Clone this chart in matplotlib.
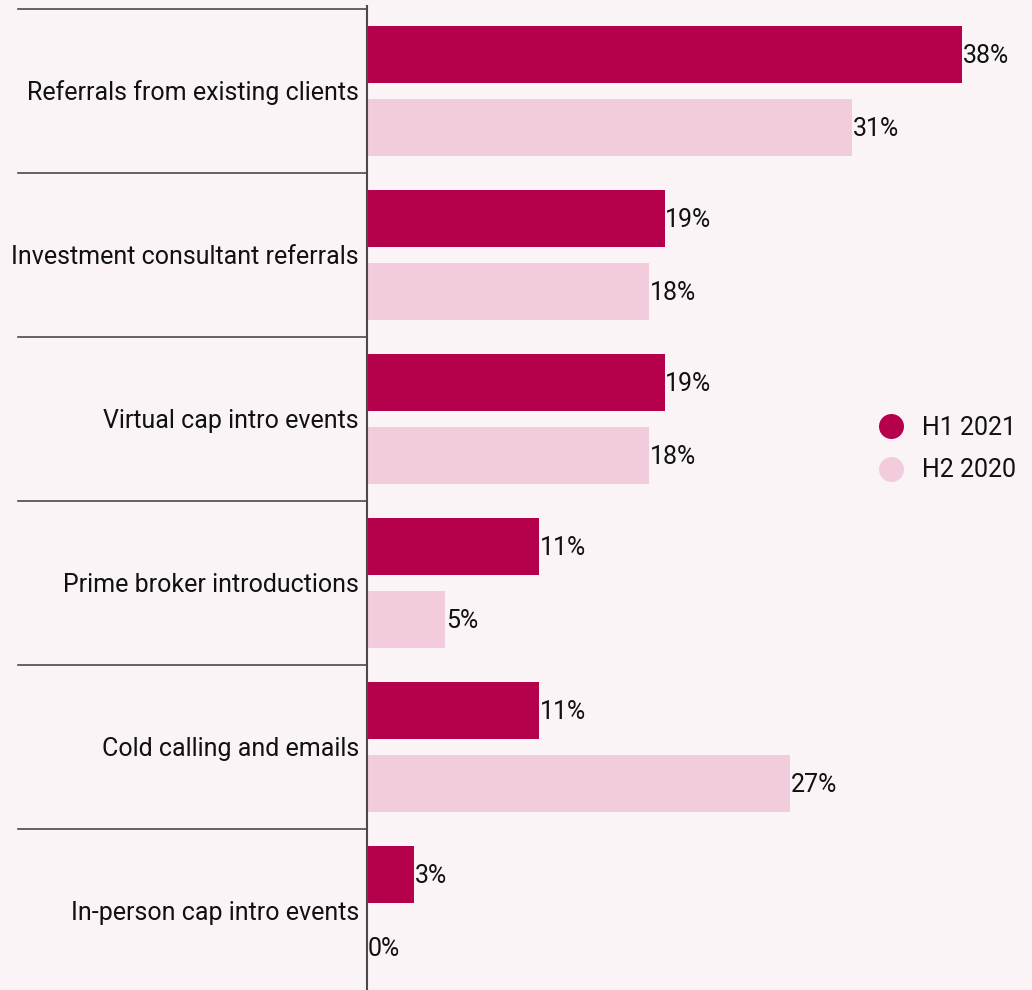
import numpy as np
import matplotlib.pyplot as plt
from matplotlib.lines import Line2D

# ─── Data ───
categories = [
    "Referrals from existing clients",
    "Investment consultant referrals",
    "Virtual cap intro events",
    "Prime broker introductions",
    "Cold calling and emails",
    "In-person cap intro events",
]
h1_2021 = [38, 19, 19, 11, 11, 3]
h2_2020 = [31, 18, 18, 5, 27, 0]
series_names = ["H1 2021", "H2 2020"]

# ─── Palette ───
DARK = "#B5004B"
LIGHT = "#F2CCDC"
BG = "#FAF4F6"
INK = "#111111"
RULE = "#4A4A4A"

plt.rcParams['font.family'] = ['Roboto', 'DejaVu Sans']
FS = 18

W, H = 1032, 990
fig = plt.figure(figsize=(W / 100, H / 100), dpi=100)
fig.patch.set_facecolor(BG)

# axes spans from the category rule to the right edge
left_px, top_px = 367, 9
ax = fig.add_axes([left_px / W, 0, 1 - left_px / W, 1 - top_px / H])
ax.set_facecolor(BG)

n = len(categories)
group = np.arange(n)
bar_h = 0.348
y1 = group + 0.277
y2 = group + 0.723

ax.barh(y1, h1_2021, height=bar_h, color=DARK, linewidth=0)
ax.barh(y2, h2_2020, height=bar_h, color=LIGHT, linewidth=0)

px_per_pct = 15.66
ax.set_xlim(0, (W - left_px) / px_per_pct)
ax.set_ylim((H - top_px) / 164, 0)

# value labels right after each bar
for yy, vals in ((y1, h1_2021), (y2, h2_2020)):
    for y, v in zip(yy, vals):
        ax.text(v + 0.05, y + 0.01, f"{v}%", va='center', ha='left',
                fontsize=FS, color=INK)

# category labels and separator rules
trans = ax.get_yaxis_transform()
for i, cat in enumerate(categories):
    ax.text(-0.012, i + 0.51, cat, transform=trans, ha='right', va='center',
            fontsize=FS, color=INK)
    ax.plot([-0.525, 0], [i, i], transform=trans, color=RULE, lw=1.2,
            clip_on=False)

ax.plot([0, 0], [-0.02, (H - top_px) / 164], transform=trans, color=RULE,
        lw=1.5, clip_on=False)

for s in ax.spines.values():
    s.set_visible(False)
ax.set_xticks([])
ax.set_yticks([])

# legend with round markers
handles = [Line2D([], [], marker='o', ls='', markersize=18,
                  markerfacecolor=c, markeredgewidth=0)
           for c in (DARK, LIGHT)]
fig.legend(handles, series_names, loc='center left',
           bbox_to_anchor=(866 / W, 1 - 449 / H), frameon=False,
           fontsize=FS, handletextpad=0.75, labelspacing=0.75,
           handlelength=1.0, borderpad=0, labelcolor=INK)

plt.savefig('out.png', dpi=100, facecolor=BG)
